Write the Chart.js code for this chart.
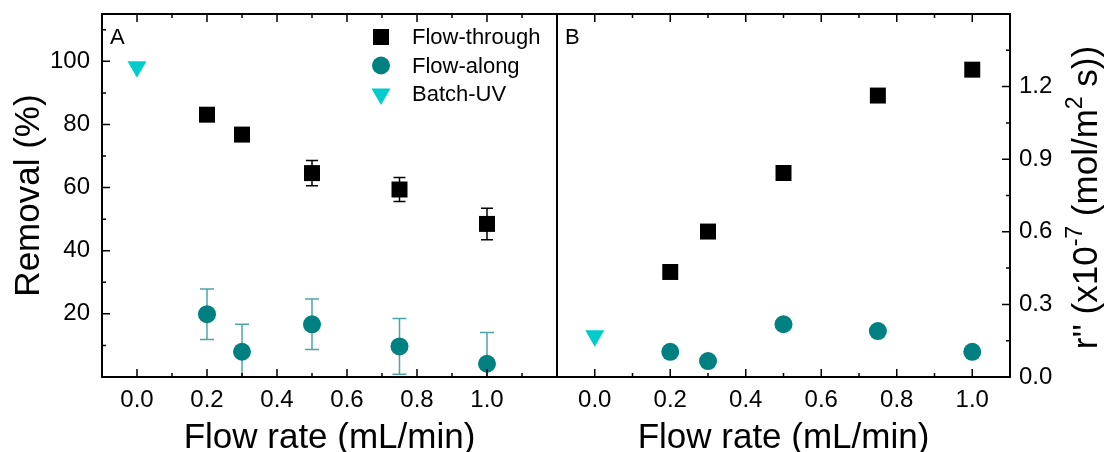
<!DOCTYPE html>
<html>
<head>
<meta charset="utf-8">
<script src="https://cdn.jsdelivr.net/npm/chart.js@4/dist/chart.umd.min.js"></script>
<style>
  body { margin: 0; background: #fff; }
  #wrap { position: relative; width: 1104px; height: 452px; background: #fff; }
  canvas { position: absolute; top: 0; }
  #chartA { left: 0; }
  #chartB { left: 556px; }
</style>
</head>
<body>
<div id="wrap">
  <canvas id="chartA" width="558" height="452"></canvas>
  <canvas id="chartB" width="548" height="452"></canvas>
</div>
<script>
// flow rates (mL/min)
const flowRates = [0.2, 0.3, 0.5, 0.75, 1.0];
const batchFlow = [0];

// panel A - removal (%)
const removalThrough = [83.1, 76.8, 64.6, 59.4, 48.5];
const removalThroughErr = [1.2, 1.2, 4.0, 3.8, 5.0];
const removalAlong = [19.9, 8.0, 16.7, 9.7, 4.2];
const removalAlongErr = [8.0, 8.7, 8.0, 8.8, 9.9];
const removalBatch = [98.3];

// panel B - r'' (x10^-7 mol/m2 s)
const rateThrough = [0.434, 0.601, 0.843, 1.163, 1.27];
const rateAlong = [0.104, 0.066, 0.218, 0.19, 0.104];
const rateBatch = [0.17];

// ticks
const xTicks = [0, 0.2, 0.4, 0.6, 0.8, 1.0];
const xMinorA = [0.1, 0.3, 0.5, 0.7, 0.9, 1.1];
const xMinorB = [0.1, 0.3, 0.5, 0.7, 0.9];
const removalTicks = [20, 40, 60, 80, 100];
const removalMinor = [10, 30, 50, 70, 90, 110];
const rateTicks = [0, 0.3, 0.6, 0.9, 1.2];
const rateMinor = [0.15, 0.45, 0.75, 1.05, 1.35];

const seriesNames = ['Flow-through', 'Flow-along', 'Batch-UV'];

const BLACK = '#000000';
const TEAL = 'rgb(0,128,128)';
const CYAN = 'rgb(0,204,204)';
const FONT = '"Liberation Sans", Arial, sans-serif';

function pts(xs, ys) {
  return xs.map((x, i) => ({ x: x, y: ys[i] }));
}

function datasets(through, along, batch, errThrough, errAlong) {
  return [
    { label: seriesNames[0], data: pts(flowRates, through), errors: errThrough, errColor: BLACK, capW: 6,
      pointStyle: 'rect', pointRadius: 11.3, backgroundColor: BLACK, borderWidth: 0 },
    { label: seriesNames[1], data: pts(flowRates, along), errors: errAlong, errColor: 'rgba(0,128,128,0.7)', capW: 7,
      pointStyle: 'circle', pointRadius: 9, backgroundColor: TEAL, borderWidth: 0 },
    { label: seriesNames[2], data: pts(batchFlow, batch),
      pointStyle: 'triangle', pointRotation: 180, pointRadius: 11, backgroundColor: CYAN, borderWidth: 0 }
  ];
}

function fixTicks(list) {
  return function (scale) { scale.ticks = list.map(v => ({ value: v })); };
}

function drawTicks(ctx, chart, cfg) {
  const a = chart.chartArea, sx = chart.scales.x, sy = chart.scales.y;
  ctx.save();
  ctx.strokeStyle = '#000';
  ctx.lineWidth = 1.5;
  ctx.beginPath();
  const xs = [[xTicks, 8], [cfg.xMinor, 4]];
  xs.forEach(([vals, len]) => vals.forEach(v => {
    const px = sx.getPixelForValue(v);
    ctx.moveTo(px, a.bottom); ctx.lineTo(px, a.bottom - len);
    ctx.moveTo(px, a.top); ctx.lineTo(px, a.top + len);
  }));
  const ys = [[cfg.yMajor, 8], [cfg.yMinor, 4]];
  const ex = cfg.ySide === 'left' ? a.left : a.right;
  const d = cfg.ySide === 'left' ? 1 : -1;
  ys.forEach(([vals, len]) => vals.forEach(v => {
    const py = sy.getPixelForValue(v);
    ctx.moveTo(ex, py); ctx.lineTo(ex + d * len, py);
  }));
  ctx.stroke();
  ctx.lineWidth = 2;
  ctx.strokeRect(a.left, a.top, a.right - a.left, a.bottom - a.top);
  ctx.restore();
}

function drawMarker(ctx, style, x, y) {
  ctx.beginPath();
  if (style === 'rect') {
    ctx.fillStyle = BLACK;
    ctx.rect(x - 8, y - 8, 16, 16);
  } else if (style === 'circle') {
    ctx.fillStyle = TEAL;
    ctx.arc(x, y, 9, 0, Math.PI * 2);
  } else {
    ctx.fillStyle = CYAN;
    ctx.moveTo(x - 9.5, y - 5.5);
    ctx.lineTo(x + 9.5, y - 5.5);
    ctx.lineTo(x, y + 11);
    ctx.closePath();
  }
  ctx.fill();
}

function drawRich(ctx, parts, cx, cy) {
  const main = '35px ' + FONT, sup = '23px ' + FONT;
  ctx.save();
  ctx.translate(cx, cy);
  ctx.rotate(-Math.PI / 2);
  ctx.textBaseline = 'middle';
  ctx.textAlign = 'left';
  ctx.fillStyle = '#000';
  let total = 0;
  parts.forEach(p => { ctx.font = p[1] ? sup : main; total += ctx.measureText(p[0]).width; });
  let x = -total / 2;
  parts.forEach(p => {
    ctx.font = p[1] ? sup : main;
    ctx.fillText(p[0], x, p[1] ? -11 : 0);
    x += ctx.measureText(p[0]).width;
  });
  ctx.restore();
}

function framePlugin(cfg) {
  return {
    id: 'frame' + cfg.name,
    beforeDatasetsDraw(chart) {
      const ctx = chart.ctx, a = chart.chartArea;
      const sx = chart.scales.x, sy = chart.scales.y;
      ctx.save();
      ctx.beginPath();
      ctx.rect(a.left, a.top, a.right - a.left, a.bottom - a.top);
      ctx.clip();
      chart.data.datasets.forEach(ds => {
        if (!ds.errors) return;
        ctx.strokeStyle = ds.errColor;
        ctx.lineWidth = 1.5;
        ds.data.forEach((p, i) => {
          const px = sx.getPixelForValue(p.x);
          const top = sy.getPixelForValue(p.y + ds.errors[i]);
          const bot = sy.getPixelForValue(p.y - ds.errors[i]);
          ctx.beginPath();
          ctx.moveTo(px, top); ctx.lineTo(px, bot);
          ctx.moveTo(px - ds.capW, top); ctx.lineTo(px + ds.capW, top);
          ctx.moveTo(px - ds.capW, bot); ctx.lineTo(px + ds.capW, bot);
          ctx.stroke();
        });
      });
      ctx.restore();
    },
    afterDraw(chart) {
      const ctx = chart.ctx, a = chart.chartArea;
      drawTicks(ctx, chart, cfg);
      ctx.save();
      ctx.fillStyle = '#000';
      // panel letter
      ctx.font = '22px ' + FONT;
      ctx.textBaseline = 'alphabetic';
      ctx.textAlign = 'left';
      ctx.fillText(cfg.name, a.left + 8, 44);
      // x title
      ctx.font = '35px ' + FONT;
      ctx.textAlign = 'center';
      ctx.fillText('Flow rate (mL/min)', (a.left + a.right) / 2, 448);
      // y title
      if (cfg.ySide === 'left') {
        ctx.save();
        ctx.translate(29, (a.top + a.bottom) / 2);
        ctx.rotate(-Math.PI / 2);
        ctx.textBaseline = 'middle';
        ctx.fillText('Removal (%)', 0, 0);
        ctx.restore();
        // legend
        const styles = ['rect', 'circle', 'triangle'];
        ctx.font = '22px ' + FONT;
        ctx.textAlign = 'left';
        ctx.textBaseline = 'middle';
        styles.forEach((s, i) => {
          const y = 37 + i * 28.5;
          drawMarker(ctx, s, 381, y);
          ctx.fillStyle = '#000';
          ctx.fillText(seriesNames[i], 412, y + 1);
        });
      } else {
        drawRich(ctx, [["r'' (x10", false], ['-7', true], [' (mol/m', false], ['2', true], [' s))', false]],
          531, (a.top + a.bottom) / 2 + 2);
      }
      ctx.restore();
    }
  };
}

function makeChart(id, cfg) {
  return new Chart(document.getElementById(id), {
    type: 'scatter',
    data: { datasets: cfg.datasets },
    options: {
      responsive: false,
      animation: false,
      devicePixelRatio: 1,
      layout: { padding: cfg.padding, autoPadding: false },
      plugins: { legend: { display: false }, tooltip: { enabled: false } },
      scales: {
        x: {
          type: 'linear', min: -0.1, max: cfg.xMax,
          afterBuildTicks: fixTicks(xTicks),
          afterFit: s => { s.height = 75; s.paddingLeft = 0; s.paddingRight = 0; },
          grid: { display: false, drawTicks: false }, border: { display: false },
          ticks: { padding: 9, color: '#000', font: { family: FONT, size: 24 },
            callback: v => v.toFixed(1), maxRotation: 0, autoSkip: false }
        },
        y: {
          type: 'linear', position: cfg.ySide, min: 0, max: cfg.yMax,
          afterBuildTicks: fixTicks(cfg.yMajorLabels),
          afterFit: s => { s.width = cfg.yWidth; s.paddingTop = 0; s.paddingBottom = 0; },
          grid: { display: false, drawTicks: false }, border: { display: false },
          ticks: { padding: cfg.yPad, color: '#000', font: { family: FONT, size: 24 },
            callback: cfg.yFmt, autoSkip: false }
        }
      }
    },
    plugins: [framePlugin(cfg)]
  });
}

makeChart('chartA', {
  name: 'A', ySide: 'left', xMax: 1.2, yMax: 115, yWidth: 102, yPad: 12,
  padding: { top: 14, right: 1, left: 0, bottom: 0 },
  yMajorLabels: removalTicks, yMajor: [0].concat(removalTicks), yMinor: removalMinor,
  xMinor: xMinorA, yFmt: v => String(v),
  datasets: datasets(removalThrough, removalAlong, removalBatch, removalThroughErr, removalAlongErr)
});

makeChart('chartB', {
  name: 'B', ySide: 'right', xMax: 1.1, yMax: 1.5, yWidth: 94, yPad: 9,
  padding: { top: 14, right: 0, left: 1, bottom: 0 },
  yMajorLabels: rateTicks, yMajor: rateTicks, yMinor: rateMinor,
  xMinor: xMinorB, yFmt: v => v.toFixed(1),
  datasets: datasets(rateThrough, rateAlong, rateBatch, null, null)
});
</script>
</body>
</html>
